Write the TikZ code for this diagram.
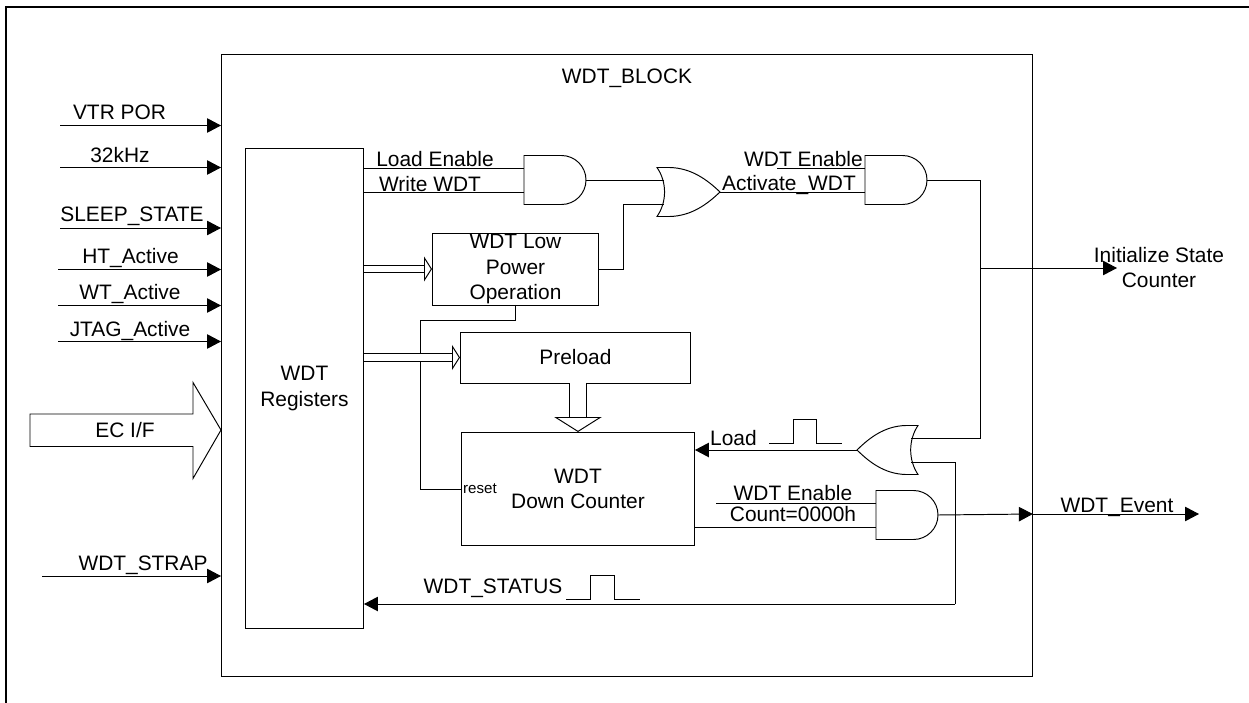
\documentclass[tikz,border=0pt]{standalone}
\usepackage{fontspec}
\setmainfont{Liberation Sans}
\usetikzlibrary{positioning,calc,arrows.meta}
\tikzset{
	wire/.style={line width=0.55pt},
	sig/.style={wire,-{Triangle[length=0.28cm,width=0.29cm]}},
	bus/.style={line width=0.55pt,double,double distance=0.13cm,-{Triangle[open,line width=0.55pt,length=0.16cm,width=0.5cm]}},
	fatbus/.style={line width=0.55pt,double,double distance=0.31cm,-{Triangle[open,line width=0.55pt,length=0.3cm,width=0.95cm]}},
	boxnode/.style={draw,line width=0.55pt,anchor=north west,inner sep=0pt,outer sep=0pt,align=center,font=\fontsize{11.9}{14.7}\selectfont},
	lab/.style={inner sep=0pt,outer sep=0pt,text height=0.3cm,text depth=0pt,font=\fontsize{11.9}{14.7}\selectfont},
}
\newcommand{\andgate}[3]{
	\coordinate (#1a) at (#2,#3-12);
	\coordinate (#1b) at (#2,#3+12);
	\coordinate (#1out) at (#2+62,#3);
	\draw[wire] (#2,#3-24.5) -- (#2+37.5,#3-24.5) .. controls (#2+51,#3-24.5) and (#2+62,#3-13.5) .. (#2+62,#3) .. controls (#2+62,#3+13.5) and (#2+51,#3+24.5) .. (#2+37.5,#3+24.5) -- (#2,#3+24.5) -- cycle;
}
\newcommand{\orgate}[4]{
	\coordinate (#1a) at (#2+#4*0.11,#3-12);
	\coordinate (#1b) at (#2+#4*0.11,#3+12);
	\coordinate (#1out) at (#2+#4,#3);
	\draw[wire] (#2,#3-24.5) .. controls (#2+#4*0.16,#3-10) and (#2+#4*0.16,#3+10) .. (#2,#3+24.5) -- (#2+#4*0.2,#3+24.5) .. controls (#2+#4*0.55,#3+24) and (#2+#4*0.8,#3+12) .. (#2+#4,#3) .. controls (#2+#4*0.8,#3-12) and (#2+#4*0.55,#3-24) .. (#2+#4*0.2,#3-24.5) -- cycle;
}
\begin{document}
\begin{tikzpicture}[x=0.02cm,y=-0.02cm]
	\useasboundingbox (0,0) rectangle (1249,703);
	\draw[line width=1.3pt] (6,703) -- (6,7) -- (1249,7);

	\node[boxnode,minimum width=16.24cm,minimum height=12.46cm] (block) at (221,54) {};
	\node[boxnode,minimum width=2.38cm,minimum height=9.62cm] (regs) at (245,148) {WDT\\Registers};
	\node[boxnode,minimum width=3.34cm,minimum height=1.44cm] (lowpower) at (432,233) {WDT Low\\Power\\Operation};
	\node[boxnode,minimum width=4.62cm,minimum height=1.02cm] (preload) at (460,332) {Preload};
	\node[boxnode,minimum width=4.68cm,minimum height=2.28cm] (counter) at (461,432) {WDT\\Down Counter};

	\andgate{anda}{524}{180}
	\andgate{andb}{865}{180}
	\andgate{andc}{876}{515}
	\orgate{ora}{657}{192}{63}
	\orgate{orb}{918}{450}{-61}

	\coordinate (vtr) at (60,125.5);
	\coordinate (clk) at (60,167.5);
	\coordinate (sleep) at (60,228);
	\coordinate (ht) at (58,269.5);
	\coordinate (wt) at (58,305.5);
	\coordinate (jtag) at (58,341.5);
	\coordinate (strap) at (42,576);
	\coordinate (enb) at (777,168);
	\coordinate (enc) at (716,503);
	\coordinate (init) at (1117,268);
	\coordinate (event) at (1199,514);
	\coordinate (lpbend) at (623,269);
	\coordinate (rstbend) at (420,320);
	\coordinate (statbend) at (955,604);
	\coordinate (initbend) at (980,180);

	\draw[sig] (vtr) -- (block.west |- vtr);
	\draw[sig] (clk) -- (block.west |- clk);
	\draw[sig] (sleep) -- (block.west |- sleep);
	\draw[sig] (ht) -- (block.west |- ht);
	\draw[sig] (wt) -- (block.west |- wt);
	\draw[sig] (jtag) -- (block.west |- jtag);
	\draw[sig] (strap) -- (block.west |- strap);
	\draw[wire] (30,414) -- (193,414) -- (193,382.5) -- (221,430) -- (193,478.5) -- (193,446.5) -- (30,446.5) -- cycle;

	\draw[wire] (regs.east |- andaa) -- (andaa);
	\draw[wire] (regs.east |- andab) -- (andab);
	\draw[wire] (andaout) -- (oraa);
	\draw[wire] (lowpower.east |- lpbend) -- (lpbend) -- (lpbend |- orab) -- (orab);
	\draw[wire] (oraout) -- (andbb);
	\draw[wire] (enb) -- (andba);
	\draw[wire] (andbout) -- (initbend) -- (initbend |- orba) -- (orba);
	\draw[sig] (init -| initbend) -- (init);
	\draw[wire] (lowpower.south) -- (lowpower.south |- rstbend) -- (rstbend) -- (rstbend |- 0,489) -- (counter.west |- 0,489);
	\draw[bus] (regs.east |- lpbend) -- (lowpower.west |- lpbend);
	\draw[bus] (regs.east |- preload.west) -- (preload.west);
	\draw[fatbus] (preload.south -| counter.north) -- (counter.north);
	\draw[sig] (orbout) -- (counter.east |- orbout);
	\draw[wire] (orbb) -- (statbend |- orbb) -- (statbend);
	\draw[sig] (statbend) -- (regs.east |- statbend);
	\draw[wire] (enc) -- (andca);
	\draw[wire] (counter.east |- andcb) -- (andcb);
	\draw[sig] (andcout) -- (block.east |- event);
	\draw[sig] (block.east |- event) -- (event);

	\draw[wire] (769,443) -- (793,443) -- (793,419) -- (816,419) -- (816,443) -- (842,443);
	\draw[wire] (566,599) -- (590,599) -- (590,575) -- (614,575) -- (614,599) -- (640,599);

	\node[lab] (lblblock) at (627,76) {WDT\_BLOCK};
	\node[lab] (lblvtr) at (119.5,112) {VTR POR};
	\node[lab] (lblclk) at (120,155) {32kHz};
	\node[lab] (lblsleep) at (132,214) {SLEEP\_STATE};
	\node[lab] (lblht) at (130.5,256.5) {HT\_Active};
	\node[lab] (lblwt) at (130,292) {WT\_Active};
	\node[lab] (lbljtag) at (130,329) {JTAG\_Active};
	\node[lab] (lblec) at (125,430) {EC I/F};
	\node[lab] (lblstrap) at (143,563) {WDT\_STRAP};
	\node[lab] (lblload) at (435,159) {Load Enable};
	\node[lab] (lblwrite) at (430,184) {Write WDT};
	\node[lab] (lblenb) at (803.5,159) {WDT Enable};
	\node[lab] (lblact) at (789,183) {Activate\_WDT};
	\node[lab] (lblpulse) at (733.5,438) {Load};
	\node[lab] (lblenc) at (793,493) {WDT Enable};
	\node[lab] (lblcount) at (793,514) {Count=0000h};
	\node[lab] (lblstat) at (493,586) {WDT\_STATUS};
	\node[lab] (lblevent) at (1117,505) {WDT\_Event};
	\node[lab,align=center,text height=,text depth=] (lblinit) at (1159,267.5) {Initialize State\\Counter};
	\node[inner sep=0pt,font=\fontsize{8.6}{10}\selectfont] (lblreset) at (480,489) {reset};
\end{tikzpicture}
\end{document}
